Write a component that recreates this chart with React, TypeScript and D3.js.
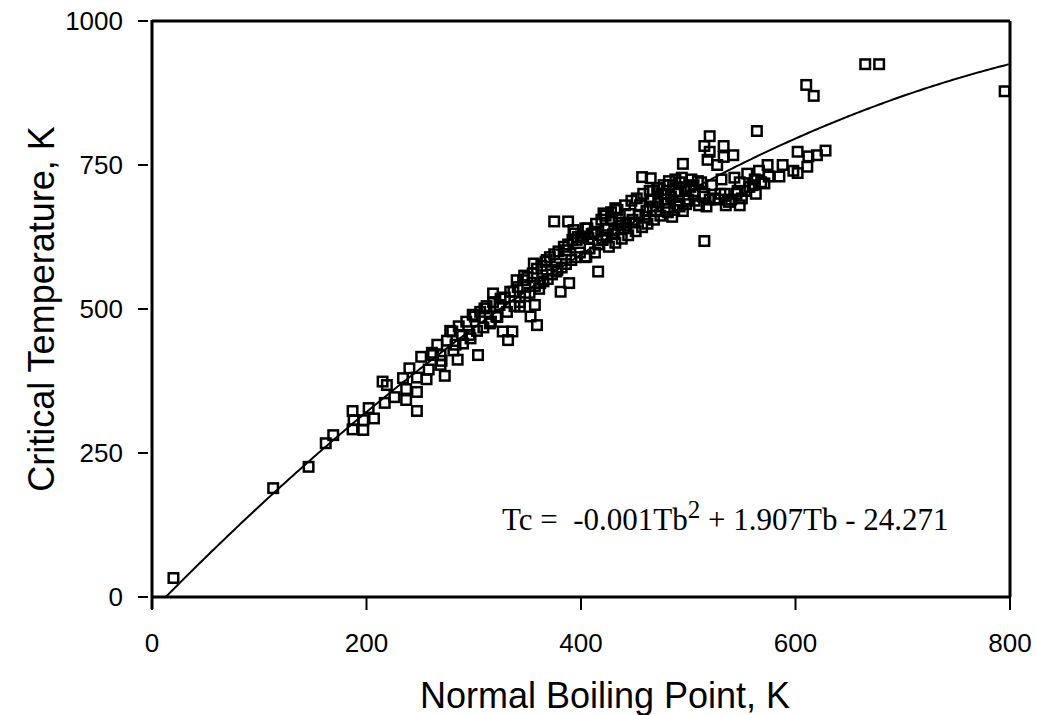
import React from "react";
import * as d3 from "d3";

// normal boiling point (K) and critical temperature (K)
const boilingPoints = [
  20, 113, 146, 162, 169, 187, 188, 187, 197, 202, 207, 197, 215, 219, 217, 226, 237, 247, 247, 237,
  234, 240, 247, 256, 251, 261, 269, 273, 269, 280, 285, 283, 289, 297, 304, 301, 310, 315, 321, 318,
  324, 327, 332, 336, 337, 340, 343, 347, 353, 359, 357, 356, 362, 368, 375, 388, 381, 378, 389, 386,
  396, 393, 404, 407, 413, 416, 405, 394, 400, 421, 432, 429, 411,
  610, 617, 564, 520, 515, 520, 533, 542, 533, 518, 527, 495, 602, 620, 574, 588, 602, 611, 457, 465,
  665, 678, 795, 628, 612, 515, 598, 585, 568, 575, 560, 553, 548, 545, 540, 535, 530, 520, 510, 505,
  500, 495, 490, 485, 480, 475, 470, 465, 460, 455, 450, 445, 440, 435, 430, 425, 420, 512, 505, 498,
  492, 488, 482, 478, 472, 467, 503, 515, 528, 548, 562,
  258, 262, 266, 270, 275, 278, 281, 286, 290, 293, 296, 299, 303, 306, 309, 312, 316, 318, 322, 325,
  329, 331, 334, 338, 341, 343, 346, 348, 350, 352, 355, 357, 359, 361, 363, 365, 367, 369, 371, 373,
  375, 377, 379, 382, 384, 386, 388, 391, 392, 395, 397, 399,
  402, 404, 406, 408, 410, 413, 414, 416, 419, 420, 423, 424, 426, 428, 431, 432, 434, 437, 438, 441,
  442, 444, 447, 448, 451, 452, 454, 457, 458, 461, 462, 464, 467, 468, 471, 472, 474, 477, 478, 481,
  482, 484, 487, 488, 491, 492, 494, 497, 498,
  502, 506, 509, 514, 517, 522, 525, 531, 534, 538, 543, 546, 550, 555, 557, 563, 566, 571,
];
const criticalTemps = [
  33, 189, 226, 267, 281, 323, 307, 291, 290, 328, 310, 307, 374, 368, 337, 347, 361, 356, 323, 342,
  380, 397, 381, 378, 417, 424, 420, 384, 403, 461, 412, 438, 455, 449, 420, 487, 501, 475, 487, 527,
  507, 461, 446, 461, 530, 550, 504, 558, 487, 472, 507, 579, 545, 585, 652, 652, 530, 568, 545, 602,
  620, 637, 640, 623, 634, 565, 591, 631, 626, 666, 675, 655, 631,
  889, 870, 809, 800, 783, 773, 783, 767, 764, 759, 750, 752, 773, 767, 750, 750, 736, 747, 729, 727,
  925, 925, 878, 775, 765, 618, 740, 730, 720, 730, 715, 705, 720, 700, 690, 680, 700, 690, 680, 700,
  690, 670, 680, 660, 690, 700, 670, 690, 660, 680, 650, 665, 640, 650, 630, 640, 620, 720, 715, 710,
  720, 705, 715, 700, 710, 705, 725, 700, 690, 680, 725,
  395, 420, 438, 410, 445, 462, 428, 470, 440, 478, 455, 490, 462, 495, 468, 505, 478, 512, 486, 518,
  520, 495, 530, 505, 538, 512, 550, 522, 555, 528, 562, 540, 570, 535, 575, 548, 582, 552, 590, 560,
  595, 565, 600, 572, 608, 578, 612, 585, 620, 590, 625, 598,
  625, 590, 640, 605, 630, 598, 648, 612, 655, 620, 662, 628, 608, 668, 636, 615, 672, 645, 622, 680,
  650, 628, 688, 655, 635, 692, 662, 642, 700, 670, 648, 705, 678, 655, 710, 685, 662, 715, 690, 668,
  722, 695, 672, 725, 700, 678, 728, 705, 682,
  712, 688, 722, 695, 678, 715, 692, 725, 700, 686, 728, 705, 692, 735, 712, 700, 740, 718,
];

// quadratic fit drawn through the points
const fitA = -0.0009;
const fitB = 1.907;
const fitC = -24.271;

const xTicks = [0, 200, 400, 600, 800];
const yTicks = [0, 250, 500, 750, 1000];

const width = 1037;
const height = 715;
const margin = { top: 21, right: 27, bottom: 118, left: 152 };

export default function App() {
  const x = d3.scaleLinear().domain([0, 800]).range([margin.left, width - margin.right]);
  const y = d3.scaleLinear().domain([0, 1000]).range([height - margin.bottom, margin.top]);

  const points = boilingPoints.map((tb, i) => ({ tb, tc: criticalTemps[i] }));

  // curve from where it crosses zero up to the right edge
  const tbStart = (-fitB + Math.sqrt(fitB * fitB - 4 * fitA * fitC)) / (2 * fitA);
  const curveData = d3.range(tbStart, 800.01, 2).map((tb) => [tb, fitA * tb * tb + fitB * tb + fitC]);
  const line = d3.line<number[]>().x((d) => x(d[0])).y((d) => y(d[1]));

  const x0 = x(0);
  const x1 = x(800);
  const y0 = y(0);
  const y1 = y(1000);
  const sq = 9.5;

  return (
    <div style={{ position: "absolute", left: 0, top: 0 }}>
      <svg width={width} height={height} style={{ display: "block", background: "#fff" }}>
        {/* frame */}
        <line x1={x0} x2={x0} y1={y1 - 1} y2={y0 + 12} stroke="#000" strokeWidth={3} />
        <line x1={x0} x2={x1 + 1} y1={y0} y2={y0} stroke="#000" strokeWidth={3} />
        <line x1={x0} x2={x1} y1={y1} y2={y1} stroke="#000" strokeWidth={3} />
        <line x1={x1} x2={x1} y1={y1} y2={y0} stroke="#000" strokeWidth={3} />

        {/* y axis */}
        {yTicks.map((t) => (
          <g key={"y" + t}>
            <line x1={x0 - 14} x2={x0 - 4} y1={y(t)} y2={y(t)} stroke="#000" strokeWidth={2} />
            <text
              x={x0 - 29}
              y={y(t)}
              dy="0.36em"
              textAnchor="end"
              fontFamily="Liberation Sans, Arial, sans-serif"
              fontSize={26}
            >
              {t}
            </text>
          </g>
        ))}

        {/* x axis */}
        {xTicks.map((t) => (
          <g key={"x" + t}>
            <line x1={x(t)} x2={x(t)} y1={y0} y2={y0 + 13} stroke="#000" strokeWidth={2} />
            <text
              x={x(t)}
              y={y0 + 55}
              textAnchor="middle"
              fontFamily="Liberation Sans, Arial, sans-serif"
              fontSize={26}
            >
              {t}
            </text>
          </g>
        ))}

        {/* fit curve */}
        <path d={line(curveData) || ""} fill="none" stroke="#000" strokeWidth={2} />

        {/* data */}
        {points.map((p, i) => (
          <rect
            key={i}
            x={x(p.tb) - sq / 2}
            y={y(p.tc) - sq / 2}
            width={sq}
            height={sq}
            fill="none"
            stroke="#000"
            strokeWidth={2.5}
          />
        ))}

        {/* equation */}
        <text
          x={502}
          y={530}
          fontFamily="Liberation Serif, Times New Roman, serif"
          fontSize={31}
          style={{ whiteSpace: "pre" }}
        >
          {"Tc =  -0.001Tb"}
          <tspan dy={-12} fontSize={25}>2</tspan>
          <tspan dy={12}>{" + 1.907Tb - 24.271"}</tspan>
        </text>

        {/* axis titles */}
        <text
          x={605}
          y={708}
          textAnchor="middle"
          fontFamily="Liberation Sans, Arial, sans-serif"
          fontSize={36}
        >
          Normal Boiling Point, K
        </text>
        <text
          transform={`translate(54, ${(y0 + y1) / 2}) rotate(-90)`}
          textAnchor="middle"
          fontFamily="Liberation Sans, Arial, sans-serif"
          fontSize={36}
        >
          Critical Temperature, K
        </text>
      </svg>
    </div>
  );
}
